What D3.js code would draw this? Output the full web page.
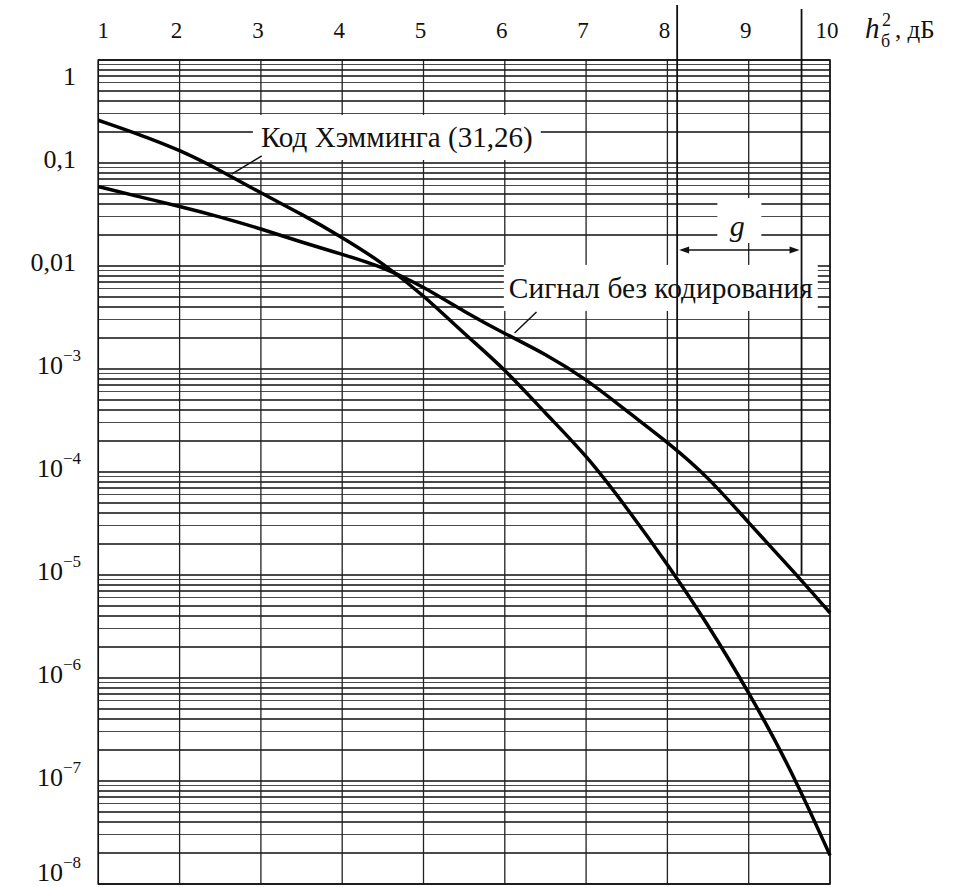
<!DOCTYPE html>
<html>
<head>
<meta charset="utf-8">
<script src="https://cdn.jsdelivr.net/npm/d3@7"></script>
<style>
  html, body { margin: 0; padding: 0; background: #fff; }
  svg { display: block; font-family: "Liberation Serif", "Times New Roman", serif; }
</style>
</head>
<body>
<svg id="chart" width="971" height="887"></svg>
<script>
// ---------- data ----------
const xTickValues = [1, 2, 3, 4, 5, 6, 7, 8, 9, 10];
const yDecades = [1, 0.1, 0.01, 1e-3, 1e-4, 1e-5, 1e-6, 1e-7, 1e-8];
const yDecadeLabels = [["1", ""], ["0,1", ""], ["0,01", ""], ["10", "\u22123"], ["10", "\u22124"], ["10", "\u22125"], ["10", "\u22126"], ["10", "\u22127"], ["10", "\u22128"]];

const snrDb = [1, 1.5, 2, 2.5, 3, 3.5, 4, 4.5, 5, 5.5, 6, 6.5, 7, 7.5, 8, 8.5, 9, 9.5, 10];
const hammingBer = [0.26, 0.19, 0.134, 0.085, 0.051, 0.032, 0.019, 0.0107, 0.0052, 0.0022, 1.0e-3, 3.7e-4, 1.47e-4, 4.5e-5, 1.28e-5, 3.3e-6, 7.3e-7, 1.4e-7, 1.9e-8];
const uncodedBer = [0.059, 0.047, 0.038, 0.030, 0.023, 0.017, 0.013, 0.0098, 0.0063, 0.0036, 0.0022, 0.0014, 8.0e-4, 3.9e-4, 1.96e-4, 9.0e-5, 3.2e-5, 1.2e-5, 4.3e-6];

const gLevelBer = 1e-5;          // BER at which gain g is measured
const gCodedDb = 8.12;           // coded curve reaches 1e-5
const gUncodedDb = 9.65;         // uncoded curve reaches 1e-5
const gArrowBer = 0.0143;        // level of the g arrow

const hammingLabel = { text: "Код Хэмминга (31,26)", x: 3.0, y: 0.143, width: 272, leader: [[3.01, 0.117], [2.64, 0.078]] };
const uncodedLabel = { text: "Сигнал без кодирования", x: 6.05, y: 0.0049, width: 304, leader: [[6.39, 0.00357], [6.12, 0.00224]] };

// ---------- layout ----------
const svg = d3.select("#chart");
const mLeft = 98.3, mRight = 830, mTop = 60, mBottom = 884;

const x = d3.scaleLinear().domain([1, 10]).range([mLeft, mRight]);
const y = d3.scaleLog().domain([1, 1e-8]).range([mTop, mBottom]);

// horizontal grid (all 1..9 x 10^k)
const hTicks = y.ticks();
svg.append("g").selectAll("line").data(hTicks).join("line")
  .attr("x1", mLeft).attr("x2", mRight)
  .attr("y1", d => y(d)).attr("y2", d => y(d))
  .attr("stroke", "#4a4a4a").attr("stroke-width", 1.1).attr("shape-rendering", "crispEdges");

// vertical grid
svg.append("g").selectAll("line").data(xTickValues).join("line")
  .attr("x1", d => x(d)).attr("x2", d => x(d))
  .attr("y1", mTop).attr("y2", mBottom)
  .attr("stroke", "#222").attr("stroke-width", 1.3);

// frame
svg.append("rect").attr("x", mLeft).attr("y", mTop).attr("width", mRight - mLeft).attr("height", mBottom - mTop)
  .attr("fill", "none").attr("stroke", "#111").attr("stroke-width", 1.5);

// top tick labels
svg.append("g").selectAll("text").data(xTickValues).join("text")
  .attr("x", d => x(d) + (d === 1 ? 5 : -3))
  .attr("y", 38)
  .attr("text-anchor", "middle")
  .attr("font-size", 23)
  .attr("fill", "#111")
  .text(d => d);

// left labels
const yl = svg.append("g");
yDecades.forEach((v, i) => {
  const [base, exp] = yDecadeLabels[i];
  const cy = Math.min(Math.max(y(v) - 4, 76), 872);
  const t = yl.append("text")
    .attr("x", exp ? 81 : 76)
    .attr("y", cy)
    .attr("dy", "0.35em")
    .attr("text-anchor", "end")
    .attr("font-size", 26)
    .attr("fill", "#111");
  t.append("tspan").text(base);
  if (exp) t.append("tspan").attr("font-size", 17).attr("dy", "-0.75em").text(exp);
});

// axis unit label h_б^2, дБ
svg.append("text").attr("x", 865).attr("y", 38).attr("font-size", 29).attr("font-style", "italic").attr("fill", "#111").text("h");
svg.append("text").attr("x", 881).attr("y", 47).attr("font-size", 18).attr("fill", "#111").text("б");
svg.append("text").attr("x", 882).attr("y", 26).attr("font-size", 18).attr("fill", "#111").text("2");
svg.append("text").attr("x", 895).attr("y", 38).attr("font-size", 25).attr("fill", "#111").text(", дБ");

// label helper with white box; font size fitted to the reference width
function boxedLabel(lbl, padX, padY) {
  const g = svg.append("g");
  const rect = g.append("rect").attr("fill", "#fff");
  const t = g.append("text")
    .attr("x", x(lbl.x)).attr("y", y(lbl.y))
    .attr("font-size", 26).attr("fill", "#111")
    .text(lbl.text);
  const w0 = t.node().getComputedTextLength();
  t.attr("font-size", 26 * lbl.width / w0);
  const bb = t.node().getBBox();
  rect.attr("x", bb.x - padX).attr("y", bb.y - padY)
    .attr("width", bb.width + 2 * padX).attr("height", bb.height + 2 * padY);
  return g;
}
boxedLabel(hammingLabel, 8, 6);
boxedLabel(uncodedLabel, 5, 7);

// g box and label
const gx = (x(gCodedDb) + x(gUncodedDb)) / 2;
svg.append("rect").attr("x", gx - 22).attr("y", y(gArrowBer) - 52).attr("width", 44).attr("height", 45).attr("fill", "#fff");
svg.append("text").attr("x", gx - 2).attr("y", y(gArrowBer) - 14)
  .attr("text-anchor", "middle").attr("font-size", 30).attr("font-style", "italic").attr("fill", "#111").text("g");

// g marker lines
const markers = [gCodedDb, gUncodedDb];
svg.append("g").selectAll("line").data(markers).join("line")
  .attr("x1", d => x(d)).attr("x2", d => x(d))
  .attr("y1", (d, i) => i === 0 ? 5 : 9).attr("y2", y(gLevelBer))
  .attr("stroke", "#111").attr("stroke-width", 1.8);

// g arrow
const ay = y(gArrowBer);
const ax1 = x(gCodedDb) + 2, ax2 = x(gUncodedDb) - 2;
svg.append("line").attr("x1", ax1 + 6).attr("x2", ax2 - 6).attr("y1", ay).attr("y2", ay)
  .attr("stroke", "#111").attr("stroke-width", 1.6);
svg.append("path").attr("d", `M${ax1},${ay} L${ax1 + 10},${ay - 3.5} L${ax1 + 10},${ay + 3.5} Z`).attr("fill", "#111");
svg.append("path").attr("d", `M${ax2},${ay} L${ax2 - 10},${ay - 3.5} L${ax2 - 10},${ay + 3.5} Z`).attr("fill", "#111");

// leaders
[hammingLabel, uncodedLabel].forEach(l => {
  svg.append("line")
    .attr("x1", x(l.leader[0][0])).attr("y1", y(l.leader[0][1]))
    .attr("x2", x(l.leader[1][0])).attr("y2", y(l.leader[1][1]))
    .attr("stroke", "#111").attr("stroke-width", 1.5);
});

// curves
const line = d3.line().x(d => x(d[0])).y(d => y(d[1])).curve(d3.curveBasis);
[hammingBer, uncodedBer].forEach(series => {
  svg.append("path")
    .datum(snrDb.map((v, i) => [v, series[i]]))
    .attr("d", line)
    .attr("fill", "none").attr("stroke", "#000").attr("stroke-width", 3.5)
    .attr("stroke-linejoin", "round");
});
</script>
</body>
</html>
